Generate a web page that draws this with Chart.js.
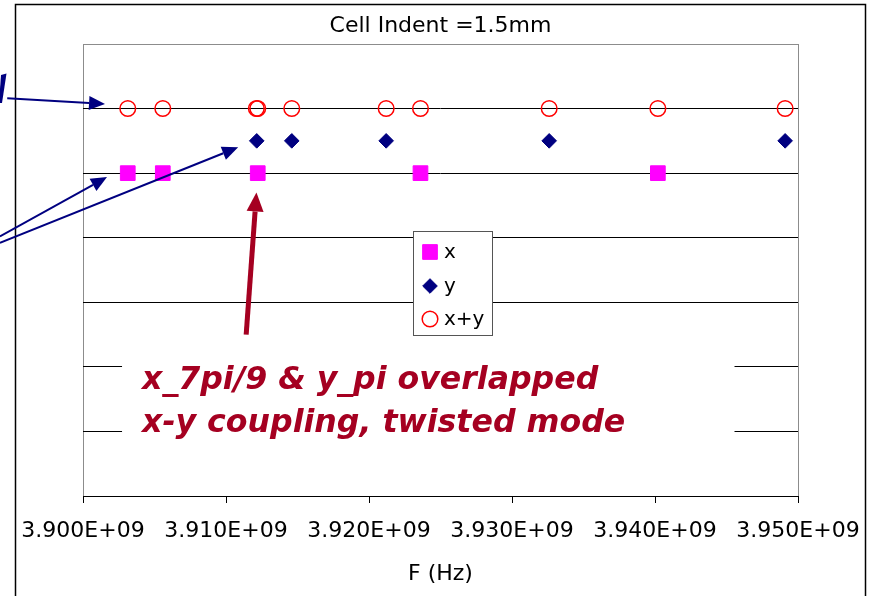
<!DOCTYPE html>
<html>
<head>
<meta charset="utf-8">
<script src="https://cdn.jsdelivr.net/npm/chart.js@4.4.1/dist/chart.umd.min.js"></script>
<style>
  html, body { margin: 0; padding: 0; background: #fff; }
  canvas { display: block; }
</style>
</head>
<body>
<canvas id="modeChart" width="876" height="596"></canvas>
<script>
// frequencies (Hz)
const xFreq = [3.90313e9, 3.90558e9, 3.91222e9, 3.92360e9, 3.94020e9];
const yFreq = [3.91215e9, 3.91460e9, 3.92120e9, 3.93260e9, 3.94910e9];
const xyFreq = [3.90313e9, 3.90558e9, 3.91212e9, 3.91222e9, 3.91460e9, 3.92120e9, 3.92360e9, 3.93260e9, 3.94020e9, 3.94910e9];

// vertical level of each series (y axis labels are cut off in the original)
const xLevel = [5, 5, 5, 5, 5];
const yLevel = [5.5, 5.5, 5.5, 5.5, 5.5];
const xyLevel = [6, 6, 6, 6, 6, 6, 6, 6, 6, 6];

const seriesNames = ['x', 'y', 'x+y'];
const xTicks = [3.90e9, 3.91e9, 3.92e9, 3.93e9, 3.94e9, 3.95e9];
const chartTitle = 'Cell Indent =1.5mm';
const xTitle = 'F (Hz)';
const noteLines = ['x_7pi/9 & y_pi overlapped', 'x-y coupling, twisted mode'];

const NAVY = '#000080';
const WINE = '#a50021';
const FONT = "'DejaVu Sans', sans-serif";

function fmtHz(v) {
  const [m, e] = Number(v).toExponential(3).split('e');
  const n = Math.abs(parseInt(e, 10));
  return m + 'E' + (e[0] === '-' ? '-' : '+') + String(n).padStart(2, '0');
}

const toPts = (fs, ls) => fs.map((f, i) => ({ x: f, y: ls[i] }));

function arrow(ctx, x1, y1, x2, y2, color, lw, headLen, headW) {
  const a = Math.atan2(y2 - y1, x2 - x1);
  const bx = x2 - headLen * Math.cos(a);
  const by = y2 - headLen * Math.sin(a);
  ctx.strokeStyle = color;
  ctx.fillStyle = color;
  ctx.lineWidth = lw;
  ctx.beginPath();
  ctx.moveTo(x1, y1);
  ctx.lineTo(bx, by);
  ctx.stroke();
  ctx.beginPath();
  ctx.moveTo(x2, y2);
  ctx.lineTo(bx + headW / 2 * Math.sin(a), by - headW / 2 * Math.cos(a));
  ctx.lineTo(bx - headW / 2 * Math.sin(a), by + headW / 2 * Math.cos(a));
  ctx.closePath();
  ctx.fill();
}

function marker(ctx, ds, x, y) {
  const r = ds.pointRadius;
  ctx.fillStyle = ds.pointBackgroundColor;
  ctx.strokeStyle = ds.pointBorderColor;
  ctx.lineWidth = ds.pointBorderWidth;
  ctx.beginPath();
  if (ds.pointStyle === 'rect') {
    const s = r * Math.SQRT1_2;
    ctx.rect(x - s, y - s, 2 * s, 2 * s);
  } else if (ds.pointStyle === 'rectRot') {
    ctx.moveTo(x - r, y); ctx.lineTo(x, y - r); ctx.lineTo(x + r, y); ctx.lineTo(x, y + r);
    ctx.closePath();
  } else {
    ctx.arc(x, y, r, 0, Math.PI * 2);
  }
  ctx.fill();
  ctx.stroke();
}

// callouts, in data units (x in Hz, y in level units)
const navyArrows = [
  [3.89470e9, 6.16, 3.90154e9, 6.07],
  [3.89419e9, 4.02, 3.90168e9, 4.94],
  [3.89419e9, 3.92, 3.91085e9, 5.40]
];
const wineArrow = [3.91141e9, 2.50, 3.91213e9, 4.70];
const noteBox = [3.90273e9, 2.33, 3.94556e9, 0.63];

const decor = {
  id: 'decor',
  beforeDraw(chart) {
    const { ctx, chartArea: a } = chart;
    ctx.save();
    ctx.fillStyle = '#fff';
    ctx.fillRect(0, 0, chart.width, chart.height);
    ctx.strokeStyle = '#000';
    ctx.lineWidth = 1.5;
    ctx.strokeRect(15.5, 4.5, 850, 700);
    ctx.strokeStyle = '#8c8c8c';
    ctx.lineWidth = 1;
    ctx.strokeRect(a.left + 0.5, a.top + 0.5, a.right - a.left, a.bottom - a.top);
    ctx.restore();
  },
  afterDatasetsDraw(chart) {
    const { ctx, scales: { x, y } } = chart;
    ctx.save();

    // note box and text
    const bx1 = x.getPixelForValue(noteBox[0]), by1 = y.getPixelForValue(noteBox[1]);
    const bx2 = x.getPixelForValue(noteBox[2]), by2 = y.getPixelForValue(noteBox[3]);
    ctx.fillStyle = '#fff';
    ctx.fillRect(bx1, by1, bx2 - bx1, by2 - by1);
    ctx.fillStyle = WINE;
    ctx.font = 'italic bold 31.6px ' + FONT;
    ctx.textBaseline = 'alphabetic';
    ctx.textAlign = 'left';
    ctx.fillText(noteLines[0], bx1 + 20, by1 + 43);
    ctx.fillText(noteLines[1], bx1 + 20, by1 + 86);

    // arrows
    navyArrows.forEach((p) => {
      arrow(ctx, x.getPixelForValue(p[0]), y.getPixelForValue(p[1]),
        x.getPixelForValue(p[2]), y.getPixelForValue(p[3]), NAVY, 2, 16, 14);
    });
    arrow(ctx, x.getPixelForValue(wineArrow[0]), y.getPixelForValue(wineArrow[1]),
      x.getPixelForValue(wineArrow[2]), y.getPixelForValue(wineArrow[3]), WINE, 5, 19, 17);

    // cut-off callout label at the left edge
    ctx.fillStyle = NAVY;
    ctx.beginPath();
    ctx.moveTo(1, 75); ctx.lineTo(6.5, 73.5); ctx.lineTo(2, 103); ctx.lineTo(-1, 103);
    ctx.closePath();
    ctx.fill();

    // legend
    ctx.fillStyle = '#fff';
    ctx.fillRect(413, 231, 79, 104);
    ctx.strokeStyle = '#555';
    ctx.lineWidth = 1;
    ctx.strokeRect(413.5, 231.5, 79, 104);
    const rows = [252, 286, 319];
    chart.data.datasets.forEach((ds, i) => {
      marker(ctx, ds, 430, rows[i]);
      ctx.fillStyle = '#000';
      ctx.font = '20px ' + FONT;
      ctx.textBaseline = 'middle';
      ctx.fillText(seriesNames[i], 444, rows[i] + 1);
    });

    ctx.restore();
  }
};

new Chart(document.getElementById('modeChart'), {
  type: 'scatter',
  data: {
    datasets: [
      {
        label: seriesNames[0], data: toPts(xFreq, xLevel),
        pointStyle: 'rect', pointRadius: 10.4, pointBackgroundColor: '#ff00ff',
        pointBorderColor: '#ff00ff', pointBorderWidth: 1
      },
      {
        label: seriesNames[1], data: toPts(yFreq, yLevel),
        pointStyle: 'rectRot', pointRadius: 7.3, pointBackgroundColor: NAVY,
        pointBorderColor: NAVY, pointBorderWidth: 1
      },
      {
        label: seriesNames[2], data: toPts(xyFreq, xyLevel),
        pointStyle: 'circle', pointRadius: 7.8, pointBackgroundColor: 'rgba(0,0,0,0)',
        pointBorderColor: '#ff0000', pointBorderWidth: 1.5
      }
    ]
  },
  options: {
    responsive: false,
    animation: false,
    layout: { padding: { left: 83, right: 78, top: 0, bottom: 0 } },
    plugins: {
      legend: { display: false },
      tooltip: { enabled: false },
      title: {
        display: true, text: chartTitle, color: '#000',
        font: { family: FONT, size: 22, weight: 'normal' },
        padding: { top: 13, bottom: 4.6 }
      }
    },
    scales: {
      x: {
        type: 'linear', min: xTicks[0], max: xTicks[xTicks.length - 1],
        afterBuildTicks: (s) => { s.ticks = xTicks.map((v) => ({ value: v })); },
        afterFit: (s) => { s.height = 100; },
        border: { display: true, color: '#000', width: 1 },
        grid: { drawOnChartArea: false, drawTicks: true, tickLength: 7, color: '#000' },
        ticks: {
          color: '#000', font: { family: FONT, size: 22 }, padding: 15,
          maxRotation: 0, autoSkip: false, callback: fmtHz
        },
        title: {
          display: true, text: xTitle, color: '#000',
          font: { family: FONT, size: 22 }, padding: { top: 0, bottom: 9 }
        }
      },
      y: {
        min: 0, max: 7,
        ticks: { display: false, stepSize: 1 },
        afterFit: (s) => { s.width = 0; },
        border: { display: false },
        grid: {
          drawTicks: false,
          color: (c) => (c.tick && c.tick.value > 0 && c.tick.value < 7 ? '#000' : 'rgba(0,0,0,0)')
        }
      }
    }
  },
  plugins: [decor]
});
</script>
</body>
</html>
